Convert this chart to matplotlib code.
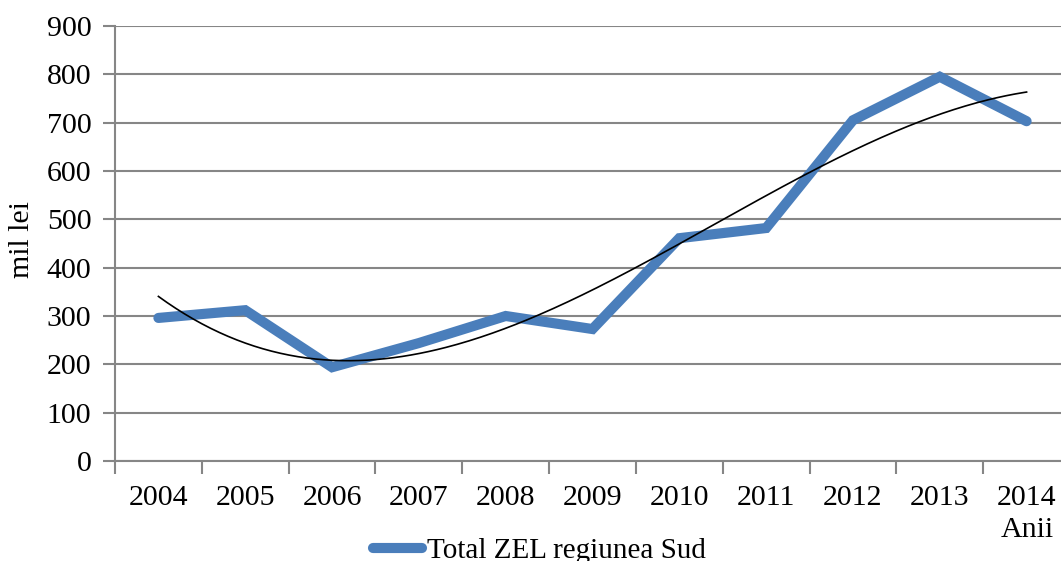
import numpy as np
import matplotlib
matplotlib.use("Agg")
import matplotlib.pyplot as plt

years = ["2004", "2005", "2006", "2007", "2008", "2009", "2010", "2011", "2012", "2013", "2014"]
values = [296, 312, 194, 244, 300, 273, 461, 482, 705, 795, 703]
series_name = "Total ZEL regiunea Sud"
y_ticks = [0, 100, 200, 300, 400, 500, 600, 700, 800, 900]

plt.rcParams["font.family"] = ["Liberation Serif", "DejaVu Serif"]
fs = 21.5

fig = plt.figure(figsize=(10.61, 5.61), dpi=100)
ax = fig.add_axes([115 / 1061, 100 / 561, 955 / 1061, 435 / 561])

x = np.arange(len(years))
blue = "#4A7EBB"
grid_c = "#868686"

ax.plot(x, values, color=blue, lw=7.3, solid_capstyle="round",
        solid_joinstyle="miter", label=series_name, zorder=3)

# polynomial (order 3) trendline through the series
coef = np.polyfit(x, values, 3)
xs = np.linspace(0, len(years) - 1, 300)
ax.plot(xs, np.polyval(coef, xs), color="black", lw=1.2, zorder=4)

ax.set_xlim(-0.5, len(years) - 0.5)
ax.set_ylim(0, 900)
ax.set_yticks(y_ticks)
ax.set_yticklabels([str(v) for v in y_ticks], fontsize=fs)
ax.set_xticks(x)
ax.set_xticklabels(years, fontsize=fs)
ax.set_xticks(np.arange(-0.5, len(years), 1), minor=True)
ax.tick_params(axis="x", which="major", length=0, pad=17)
ax.tick_params(axis="x", which="minor", length=9, width=1.5, color=grid_c)
ax.tick_params(axis="y", length=9, width=1.5, color=grid_c, pad=8)

ax.yaxis.grid(True, color=grid_c, lw=1.5)
ax.set_axisbelow(True)
for s in ["top", "right"]:
    ax.spines[s].set_visible(False)
for s in ["left", "bottom"]:
    ax.spines[s].set_color(grid_c)
    ax.spines[s].set_linewidth(1.5)

fig.text(22 / 1061, 1 - 240 / 561, "mil lei", rotation=90, fontsize=fs,
         ha="center", va="center")
fig.text(1054 / 1061, 1 - 530 / 561, "Anii", fontsize=fs, ha="right", va="center")

leg = ax.legend(loc="center", bbox_to_anchor=(424 / 955, -90 / 435),
                frameon=False, fontsize=21, handlelength=1.7,
                handletextpad=0.15, borderaxespad=0, borderpad=0)

fig.savefig("out.png", dpi=100)
